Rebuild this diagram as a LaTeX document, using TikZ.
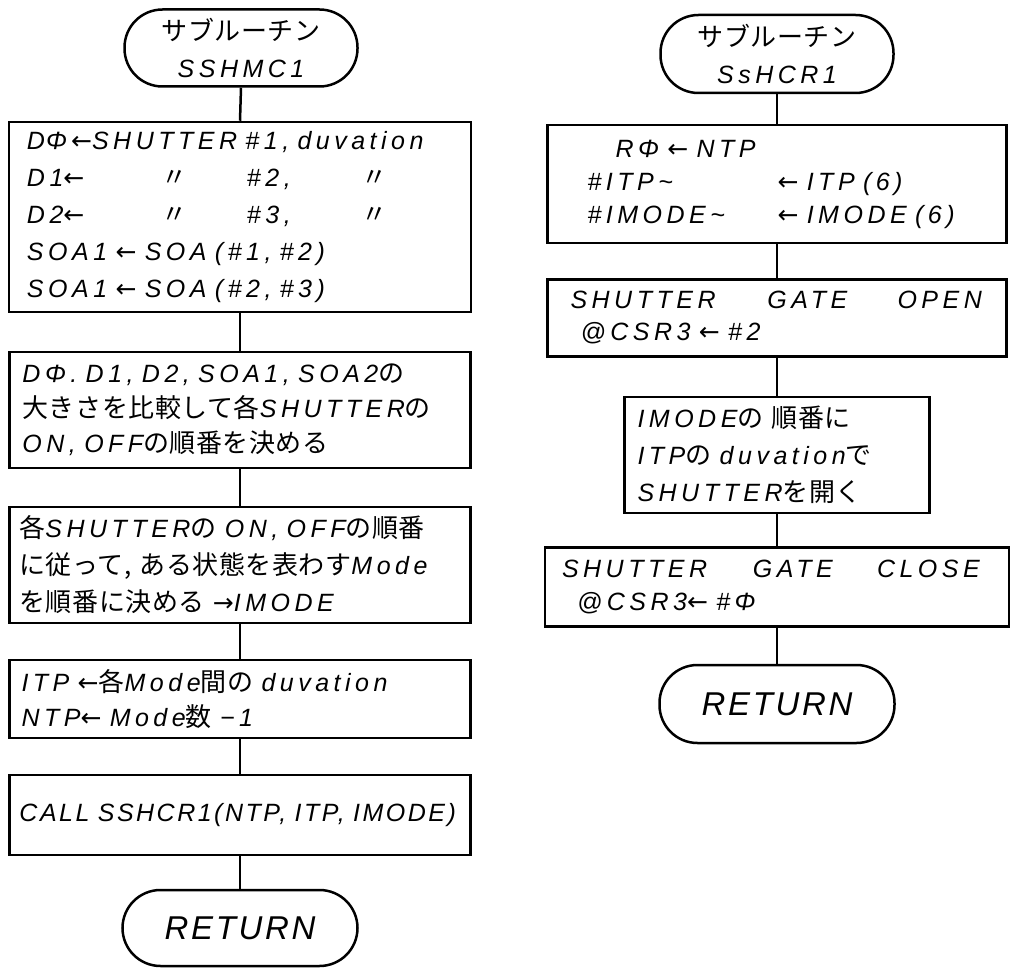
\documentclass[tikz,border=0pt]{standalone}
\usepackage{fontspec}
\setmainfont{Liberation Sans}
\newfontfamily\latf{Liberation Sans}[LetterSpace=18]
\newfontfamily\jpf{Noto Sans CJK JP}[Scale=1.04, LetterSpace=2]
\newfontfamily\symf{DejaVu Sans}
\newcommand\jtext[1]{{\jpf\upshape #1}}
\newcommand\larr{{\symf\upshape ←}}
\newcommand\rarr{{\symf\upshape →}}
\newcommand\ditto{\jtext{〃}}
\tikzset{
  base/.style={draw, line width=2.5pt, inner ysep=0pt},
  procbox/.style={base, rectangle, align=left},
  termbox/.style={base, rectangle, rounded corners=38pt, align=center},
  conn/.style={line width=2.5pt},
  fs/.style={font=\latf\itshape\fontsize{25}{#1}\selectfont},
  retfont/.style={font=\latf\itshape\fontsize{33}{36}\selectfont\addfontfeature{LetterSpace=8}}
}
\begin{document}
\begin{tikzpicture}[x=1pt,y=-1pt]
\useasboundingbox (0,0) rectangle (1010,968);
% ---------------- left column ----------------
\node[termbox, fs=37, minimum width=233, minimum height=77, text width=220] (t1) at (241,48)
  {\jtext{サブルーチン}\\SSHMC1};
\node[procbox, fs=37, minimum width=462, minimum height=190, text width=426, inner xsep=18] (b1) at (240,217)
  {D\kern1ptΦ\,\larr SHUTTER \#1, duvation\\
   \makebox[135pt][l]{D1\larr}\makebox[85pt][l]{\ditto}\makebox[115pt][l]{\#2,}\ditto\\
   \makebox[135pt][l]{D2\larr}\makebox[85pt][l]{\ditto}\makebox[115pt][l]{\#3,}\ditto\\
   SOA1 \larr\ SOA (\#1, \#2)\\
   SOA1 \larr\ SOA (\#2, \#3)};
\node[procbox, fs=35, minimum width=461, minimum height=116, text width=435, inner xsep=13] (b2) at (240,410)
  {DΦ. D1, D2, SOA1, SOA2\jtext{の}\\
   \jtext{大きさを比較して各}SHUTTER\jtext{の}\\
   ON, OFF\jtext{の順番を決める}};
\node[procbox, fs=37, minimum width=461, minimum height=116, text width=441, inner xsep=10] (b3) at (240,565)
  {\jtext{各}SHUTTER\jtext{の} ON, OFF\jtext{の順番}\\
   \jtext{に従って, ある状態を表わす}Mode\\
   \jtext{を順番に決める} \rarr IMODE};
\node[procbox, fs=35, minimum width=461, minimum height=78, text width=437, inner xsep=12] (b4) at (240,699)
  {ITP \larr\jtext{各}Mode\jtext{間の} duvation\\
   NTP\larr\ Mode\jtext{数} −1};
\node[procbox, fs=35, minimum width=461, minimum height=80, text width=441, inner xsep=10] (b5) at (240,815)
  {\addfontfeature{LetterSpace=10}CALL SSHCR1(NTP, ITP, IMODE)};
\node[termbox, retfont, minimum width=235, minimum height=76] (r1) at (240,928)
  {RETURN};
\draw[conn] (t1.south) -- (b1.north);
\draw[conn] (b1.south) -- (b2.north);
\draw[conn] (b2.south) -- (b3.north);
\draw[conn] (b3.south) -- (b4.north);
\draw[conn] (b4.south) -- (b5.north);
\draw[conn] (b5.south) -- (r1.north);
% ---------------- right column ----------------
\node[termbox, fs=37, minimum width=233, minimum height=78, text width=220] (t2) at (777,54)
  {\jtext{サブルーチン}\\SsHCR1};
\node[procbox, fs=33, minimum width=459, minimum height=118, text width=379, inner xsep=40] (c1) at (777,184)
  {\hspace*{28pt}RΦ \larr\ NTP\\
   \makebox[190pt][l]{\#ITP\textasciitilde}\larr\ ITP (6)\\
   \makebox[190pt][l]{\#IMODE\textasciitilde}\larr\ IMODE (6)};
\node[procbox, fs=32, minimum width=459, minimum height=77, text width=413, inner xsep=23] (c2) at (777,318)
  {\makebox[197pt][l]{SHUTTER}\makebox[130pt][l]{GATE}OPEN\\
   \hspace*{10pt}@CSR3 \larr\ \#2};
\node[procbox, fs=37, minimum width=305, minimum height=116, text width=279, inner xsep=13] (c3) at (777,455)
  {IMODE\jtext{の 順番に}\\
   ITP\jtext{の} duvation\jtext{で}\\
   SHUTTER\jtext{を開く}};
\node[procbox, fs=33, minimum width=464, minimum height=79, text width=430, inner xsep=17] (c4) at (777,587)
  {\makebox[191pt][l]{SHUTTER}\makebox[124pt][l]{GATE}CLOSE\\
   \hspace*{15pt}@CSR3\larr\ \#Φ};
\node[termbox, retfont, minimum width=235, minimum height=78] (r2) at (777,704)
  {RETURN};
\draw[conn] (t2.south) -- (c1.north);
\draw[conn] (c1.south) -- (c2.north);
\draw[conn] (c2.south) -- (c3.north);
\draw[conn] (c3.south) -- (c4.north);
\draw[conn] (c4.south) -- (r2.north);
\end{tikzpicture}
\end{document}
